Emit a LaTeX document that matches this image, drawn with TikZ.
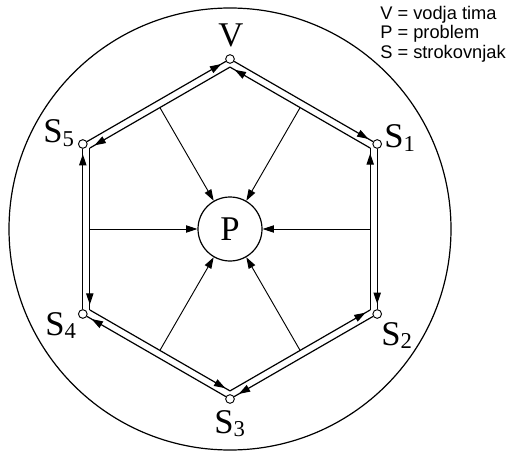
\documentclass[tikz,border=0pt]{standalone}
\usepackage{fontspec}
\setmainfont{Liberation Serif}
\newfontfamily\legendfont{Liberation Sans}
\usetikzlibrary{arrows.meta,decorations.markings}
\tikzset{
  >={Triangle[length=8.5pt,width=5.5pt]},
  vertex/.style={circle,draw,fill=white,line width=0.7pt,minimum size=6.5pt,inner sep=0pt},
  dline/.style={line width=0.9pt},
  spoke/.style={line width=0.7pt},
  arrowat/.style={postaction={decorate},decoration={markings,mark=at position #1 with {\arrow{>}}}},
  lbl/.style={anchor=base west,inner sep=0pt,font=\fontsize{26}{26}\selectfont},
  leg/.style={anchor=base west,inner sep=0pt,font=\legendfont\fontsize{13.7}{14.5}\selectfont},
}
\newcommand{\Slabel}[1]{S\raisebox{-2.5pt}{\fontsize{17}{17}\selectfont #1}}
\begin{document}
\begin{tikzpicture}[x=0.75pt,y=-0.75pt]
\useasboundingbox (0,0) rectangle (509,452);
% outer circle
\node[circle,draw,line width=0.9pt,minimum size=331.5pt,inner sep=0pt] (outer) at (230,229) {};
% center
\node[circle,draw,line width=0.9pt,minimum size=48pt,inner sep=0pt,font=\fontsize{26}{26}\selectfont] (P) at (230,229) {P};
% vertices
\node[vertex] (V)  at (230,59) {};
\node[vertex] (S1) at (377.2,144) {};
\node[vertex] (S2) at (377.2,314) {};
\node[vertex] (S3) at (230,399) {};
\node[vertex] (S4) at (82.8,314) {};
\node[vertex] (S5) at (82.8,144) {};
% inner corners
\coordinate (iV)  at (230,67.1);
\coordinate (iS1) at (370.2,148.05);
\coordinate (iS2) at (370.2,309.95);
\coordinate (iS3) at (230,390.9);
\coordinate (iS4) at (89.8,309.95);
\coordinate (iS5) at (89.8,148.05);
% spoke starts
\coordinate (m1) at (300.1,107.6);
\coordinate (m2) at (370.2,229);
\coordinate (m3) at (300.1,350.4);
\coordinate (m4) at (159.9,350.4);
\coordinate (m5) at (89.8,229);
\coordinate (m6) at (159.9,107.6);
% inner lines (counter-clockwise)
\draw[dline,arrowat=-4pt] (iV) -- (iS5);
\draw[dline,arrowat=-4pt] (iS5) -- (iS4);
\draw[dline,arrowat=-4pt] (iS4) -- (iS3);
\draw[dline,arrowat=-4pt] (iS3) -- (iS2);
\draw[dline,arrowat=-4pt] (iS2) -- (iS1);
\draw[dline,arrowat=-4pt] (iS1) -- (iV);
% outer lines (clockwise)
\draw[dline,arrowat=-4pt] (V) -- (S1);
\draw[dline,arrowat=-4pt] (S1) -- (S2);
\draw[dline,arrowat=-4pt] (S2) -- (S3);
\draw[dline,arrowat=-4pt] (S3) -- (S4);
\draw[dline,arrowat=-4pt] (S4) -- (S5);
\draw[dline,arrowat=-4pt] (S5) -- (V);
% spokes
\draw[spoke,->] (m1) -- (P);
\draw[spoke,->] (m2) -- (P);
\draw[spoke,->] (m3) -- (P);
\draw[spoke,->] (m4) -- (P);
\draw[spoke,->] (m5) -- (P);
\draw[spoke,->] (m6) -- (P);
% labels
\node[lbl,anchor=base] (lV) at (231,47) {V};
\node[lbl] (l1) at (384,148) {\Slabel{1}};
\node[lbl] (l2) at (381,345) {\Slabel{2}};
\node[lbl] (l3) at (214,433) {\Slabel{3}};
\node[lbl] (l4) at (45,335) {\Slabel{4}};
\node[lbl] (l5) at (43,143) {\Slabel{5}};
% legend
\node[leg] (legV) at (380,19.3) {V = vodja tima};
\node[leg] (legP) at (380,38.7) {P = problem};
\node[leg] (legS) at (380,58.1) {S = strokovnjak};
\end{tikzpicture}
\end{document}
